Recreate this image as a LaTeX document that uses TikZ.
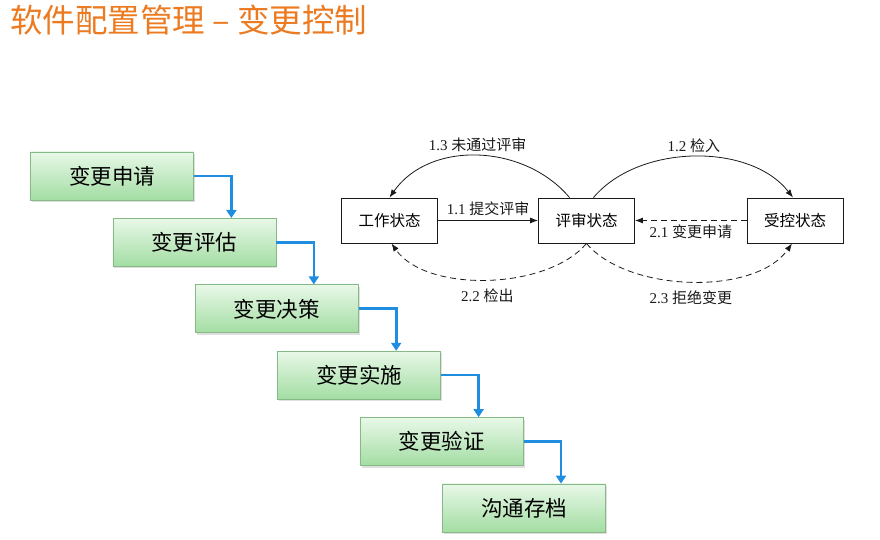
\documentclass[tikz,border=0pt]{standalone}
\usepackage{fontspec}
\setmainfont{Liberation Serif}
\newfontfamily\cjk{Noto Sans CJK SC}
\usetikzlibrary{arrows.meta,positioning,shadows}
\definecolor{Ink}{HTML}{1A1A1A}
\definecolor{TitleOrange}{HTML}{EC7A21}
\definecolor{StepTop}{HTML}{E8F8E8}
\definecolor{StepBottom}{HTML}{A3DDA3}
\definecolor{StepEdge}{HTML}{86B986}
\definecolor{FlowBlue}{HTML}{1F8DE0}
\tikzset{
  pagetitle/.style={font=\cjk\fontsize{32.5}{38}\selectfont, text=TitleOrange, inner sep=0pt},
  stepbox/.style={draw=StepEdge, top color=StepTop, bottom color=StepBottom, line width=0.8pt,
    minimum width=163pt, minimum height=48pt, font=\cjk\fontsize{21.5}{25}\selectfont,
    drop shadow={opacity=0.25, shadow xshift=1.5pt, shadow yshift=-2pt}},
  stepflow/.style={-{Triangle[length=8pt,width=10pt]}, draw=FlowBlue, line width=2.6pt},
  state/.style={draw=Ink, fill=white, line width=0.9pt, minimum width=96pt, minimum height=45pt,
    font=\cjk\fontsize{15.5}{18}\selectfont},
  trans/.style={-{Latex[length=8pt,width=6pt]}, draw=Ink, line width=0.8pt},
  backtrans/.style={trans, dash pattern=on 6pt off 4pt},
  translabel/.style={font=\fontsize{15}{17}\selectfont, text=Ink, inner sep=1pt},
}

\begin{document}
\begin{tikzpicture}[x=1pt, y=1pt]
  \useasboundingbox (0,0) rectangle (880,540);

  \node[pagetitle, anchor=west] (title) at (10,520) {软件配置管理 – 变更控制};

  % Change steps descend as a staircase.
  \node[stepbox] (request) at (112,364) {变更申请};
  \node[stepbox] (assess) at ([xshift=82.4pt,yshift=-66.4pt]request.center) {变更评估};
  \node[stepbox] (decide) at ([xshift=82.4pt,yshift=-66.4pt]assess.center) {变更决策};
  \node[stepbox] (implement) at ([xshift=82.4pt,yshift=-66.4pt]decide.center) {变更实施};
  \node[stepbox] (verify) at ([xshift=82.4pt,yshift=-66.4pt]implement.center) {变更验证};
  \node[stepbox] (archive) at ([xshift=82.4pt,yshift=-66.4pt]verify.center) {沟通存档};

  \draw[stepflow] (request.east) -| ([xshift=37pt]assess.north);
  \draw[stepflow] (assess.east) -| ([xshift=37pt]decide.north);
  \draw[stepflow] (decide.east) -| ([xshift=37pt]implement.north);
  \draw[stepflow] (implement.east) -| ([xshift=37pt]verify.north);
  \draw[stepflow] (verify.east) -| ([xshift=37pt]archive.north);

  % State model of a configuration item.
  \node[state] (working) at (389.5,319.5) {工作状态};
  \node[state] (review) at (586.5,319.5) {评审状态};
  \node[state] (baseline) at (795,319.5) {受控状态};

  \draw[trans] (working.east) -- (review.west)
    node[translabel, midway, above=3pt] (submitLbl) {1.1 {\cjk 提交评审}};
  \draw[trans] ([xshift=-17pt]review.north) to[out=130, in=55]
    node[translabel, midway, above=3pt] (rejectLbl) {1.3 {\cjk 未通过评审}} (working.north);
  \draw[trans] ([xshift=7pt]review.north) to[out=50, in=128, looseness=0.9]
    node[translabel, midway, above=3pt] (checkinLbl) {1.2 {\cjk 检入}} ([xshift=-2pt]baseline.north);

  \draw[backtrans] (baseline.west) -- (review.east)
    node[translabel, midway, below=3pt] (changeLbl) {2.1 {\cjk 变更申请}};
  \draw[backtrans] (review.south) to[out=-130, in=-55, looseness=0.8]
    node[translabel, midway, below=8pt] (checkoutLbl) {2.2 {\cjk 检出}} ([xshift=2pt]working.south);
  \draw[backtrans] (review.south) to[out=-50, in=-125, looseness=0.8]
    node[translabel, midway, below=8pt] (denyLbl) {2.3 {\cjk 拒绝变更}} ([xshift=-3pt]baseline.south);
\end{tikzpicture}
\end{document}
